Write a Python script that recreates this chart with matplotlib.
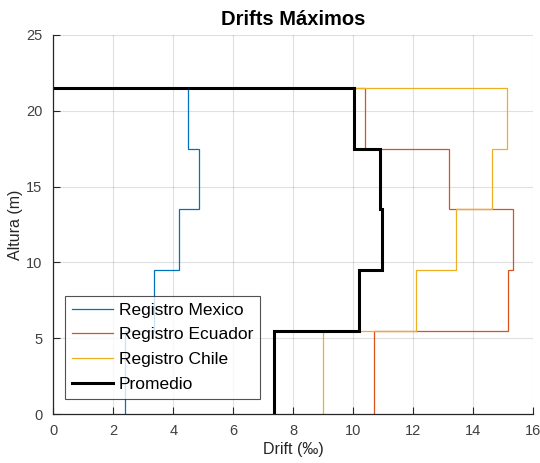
import matplotlib
matplotlib.use("Agg")
import matplotlib.pyplot as plt
import numpy as np

plt.rcParams['font.family'] = ['Liberation Sans', 'DejaVu Sans']

# Story levels (m) and peak inter-story drift per story (‰)
heights = [0, 5.5, 9.5, 13.5, 17.5, 21.5]
drift_mexico = [2.4, 3.37, 4.18, 4.87, 4.5]
drift_ecuador = [10.69, 15.14, 15.31, 13.2, 10.4]
drift_chile = [8.98, 12.09, 13.42, 14.63, 15.13]
drift_mean = list(np.mean([drift_mexico, drift_ecuador, drift_chile], axis=0))

series_names = ['Registro Mexico', 'Registro Ecuador', 'Registro Chile', 'Promedio']
series_colors = ['#0072BD', '#D95319', '#EDB120', '#000000']
series_widths = [0.9, 0.9, 0.9, 2.2]


def stair_profile(drifts, levels):
    xs, ys = [], []
    for i, d in enumerate(drifts):
        xs += [d, d]
        ys += [levels[i], levels[i + 1]]
    xs.append(0)
    ys.append(levels[-1])
    return xs, ys


fig = plt.figure(figsize=(5.4, 4.63), dpi=100)
ax = fig.add_axes([53.3 / 540, 49 / 463, 480 / 540, 379 / 463])

for drifts, name, col, lw in zip([drift_mexico, drift_ecuador, drift_chile, drift_mean],
                                 series_names, series_colors, series_widths):
    xs, ys = stair_profile(drifts, heights)
    ax.plot(xs, ys, color=col, lw=lw, label=name, solid_joinstyle='miter')

ax.set_xlim(0, 16)
ax.set_ylim(0, 25)
ax.set_xticks(np.arange(0, 17, 2))
ax.set_yticks(np.arange(0, 26, 5))
ax.grid(True, color='#000000', alpha=0.12, lw=0.8)
ax.set_axisbelow(True)
for s in ['top', 'right']:
    ax.spines[s].set_visible(False)
for s in ['left', 'bottom']:
    ax.spines[s].set_color('#262626')
    ax.spines[s].set_linewidth(0.9)
ax.tick_params(direction='in', length=5, width=0.8, colors='#262626',
               labelsize=10.5, labelcolor='#404040')
ax.tick_params(axis='x', pad=7)
ax.tick_params(axis='y', pad=8)

ax.set_xlabel('Drift (‰)', fontsize=11.5, color='#262626', labelpad=3)
ax.set_ylabel('Altura (m)', fontsize=11.5, color='#262626', labelpad=2)
ax.set_title('Drifts Máximos', fontsize=14.5, fontweight='bold', pad=7)

leg = ax.legend(loc='lower left', bbox_to_anchor=(0.024, 0.04), fontsize=12.5,
                frameon=True, fancybox=False, edgecolor='#262626',
                borderpad=0.4, labelspacing=0.55, handlelength=2.4,
                handletextpad=0.3, borderaxespad=0)
leg.get_frame().set_linewidth(0.8)

fig.savefig('out.png', dpi=100)
